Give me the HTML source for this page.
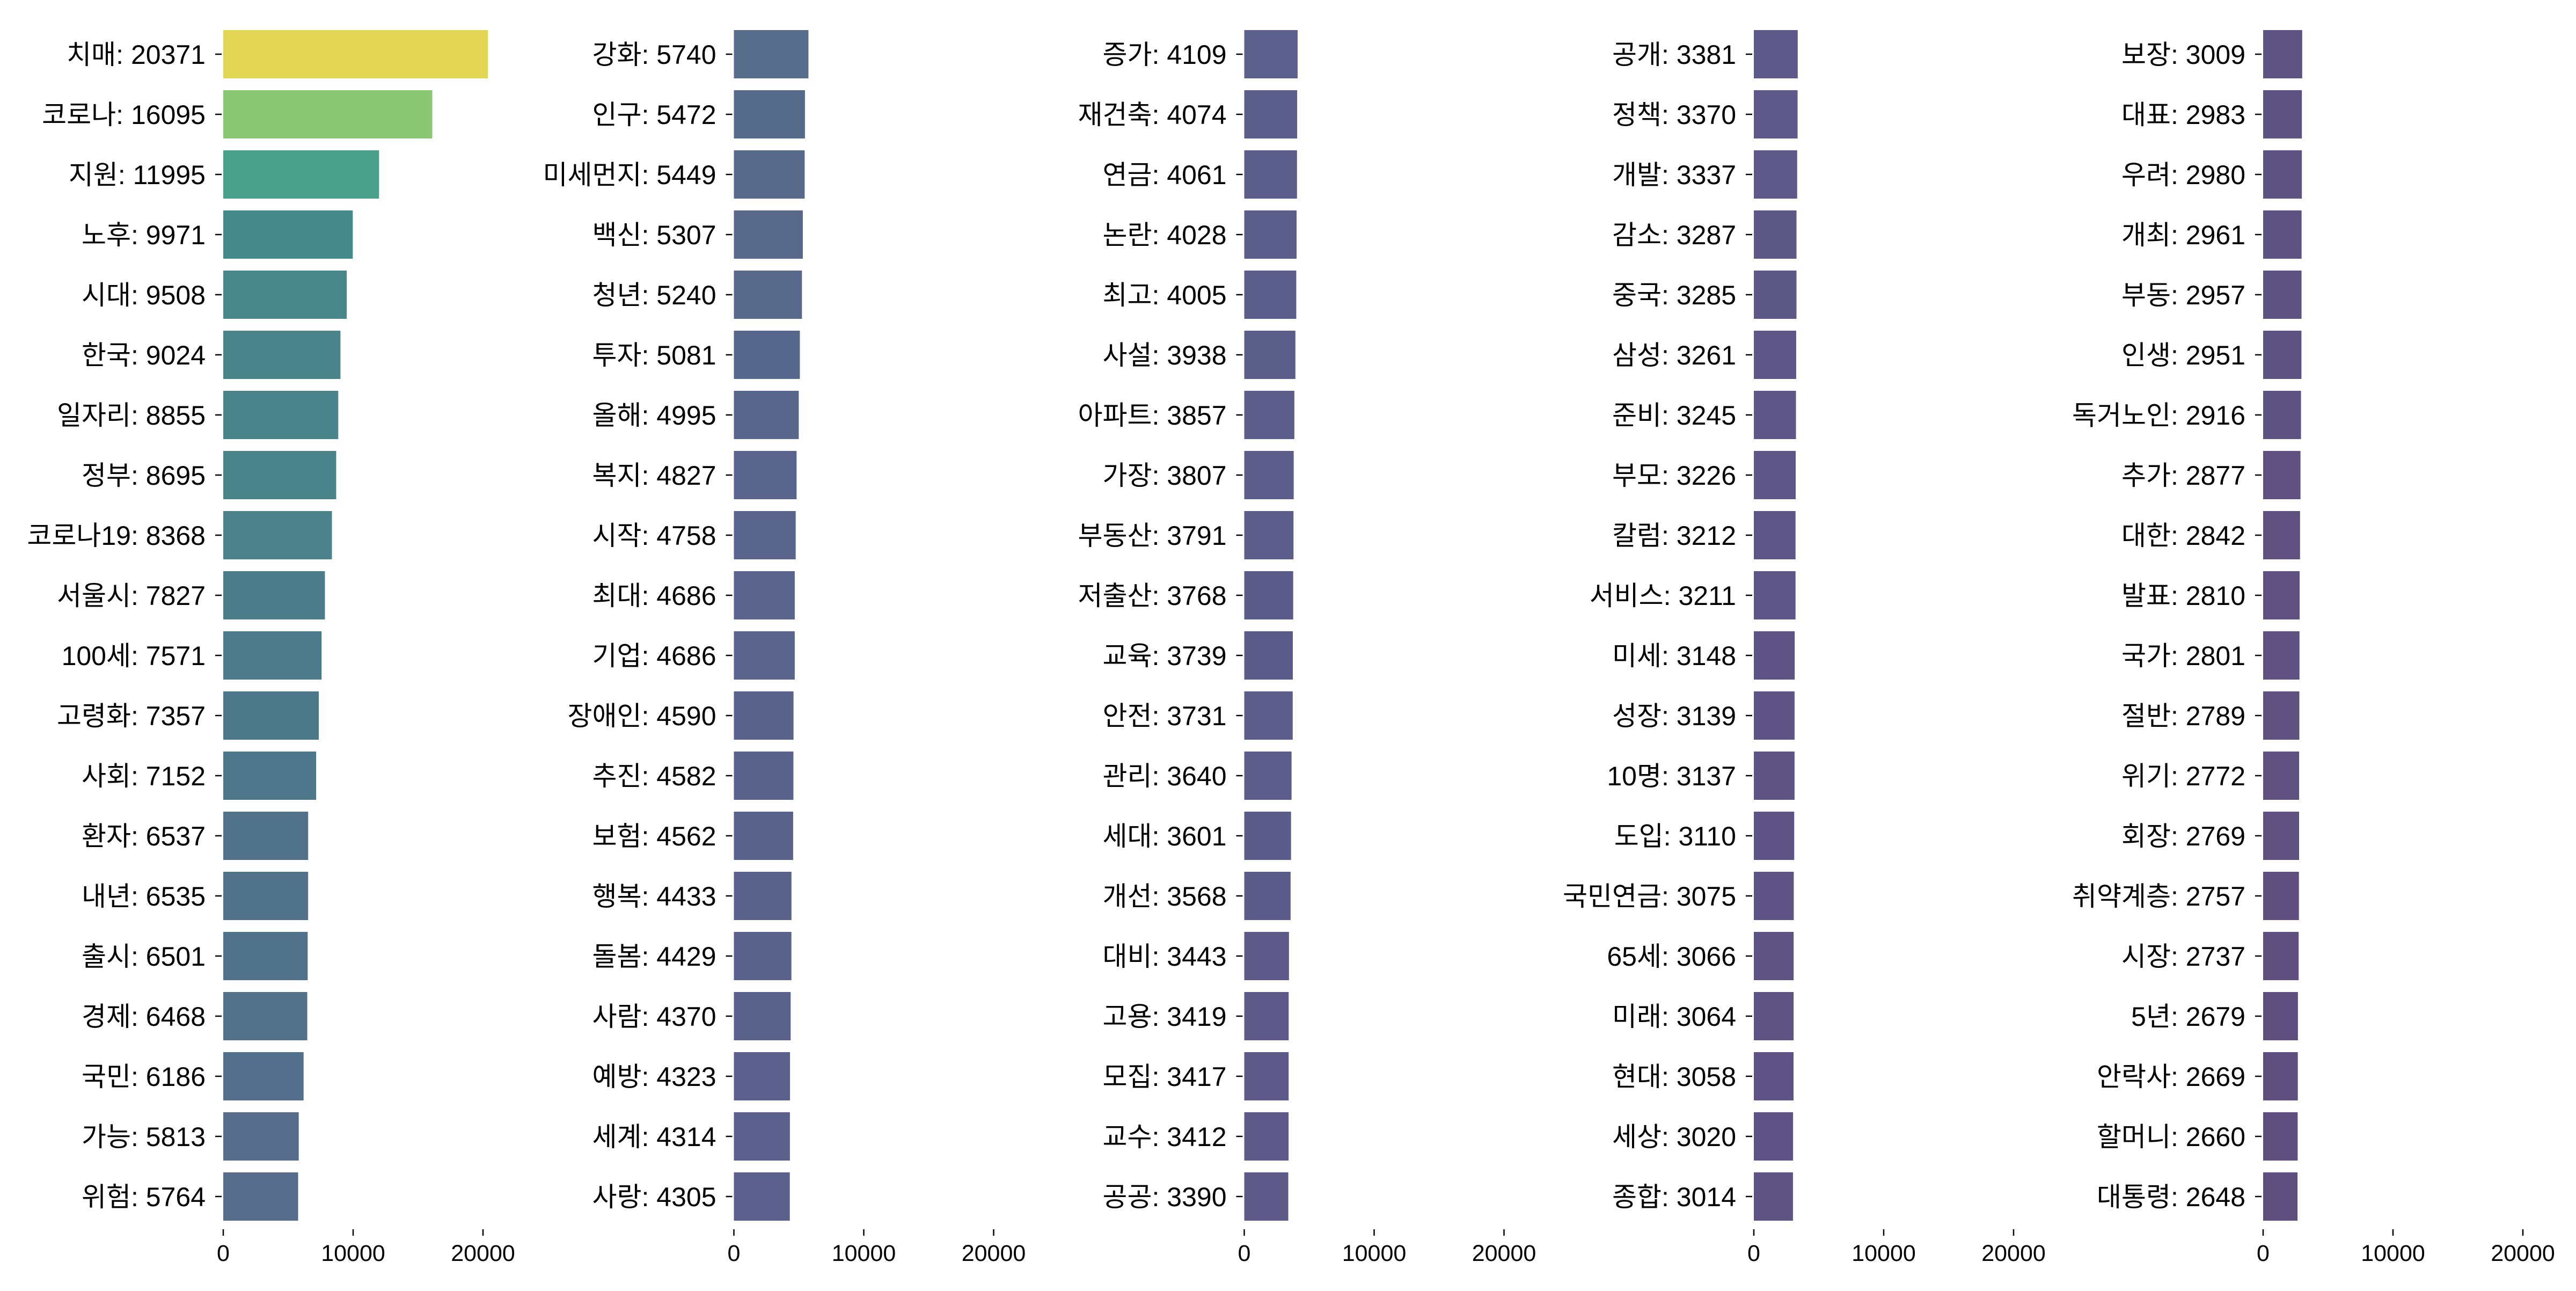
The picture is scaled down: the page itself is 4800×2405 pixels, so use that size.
<!DOCTYPE html>
<html><head><meta charset="utf-8"><style>
html,body{margin:0;padding:0;background:#fff;}
svg text{font-family:"Liberation Sans","Noto Sans CJK KR",sans-serif;fill:#000;}
</style></head><body>
<svg id="chart" width="4800" height="2400" viewBox="0 0 4800 2400" xmlns="http://www.w3.org/2000/svg"></svg>
<script>
const words1=["치매","코로나","지원","노후","시대","한국","일자리","정부","코로나19","서울시","100세","고령화","사회","환자","내년","출시","경제","국민","가능","위험"];
const counts1=[20371,16095,11995,9971,9508,9024,8855,8695,8368,7827,7571,7357,7152,6537,6535,6501,6468,6186,5813,5764];
const words2=["강화","인구","미세먼지","백신","청년","투자","올해","복지","시작","최대","기업","장애인","추진","보험","행복","돌봄","사람","예방","세계","사랑"];
const counts2=[5740,5472,5449,5307,5240,5081,4995,4827,4758,4686,4686,4590,4582,4562,4433,4429,4370,4323,4314,4305];
const words3=["증가","재건축","연금","논란","최고","사설","아파트","가장","부동산","저출산","교육","안전","관리","세대","개선","대비","고용","모집","교수","공공"];
const counts3=[4109,4074,4061,4028,4005,3938,3857,3807,3791,3768,3739,3731,3640,3601,3568,3443,3419,3417,3412,3390];
const words4=["공개","정책","개발","감소","중국","삼성","준비","부모","칼럼","서비스","미세","성장","10명","도입","국민연금","65세","미래","현대","세상","종합"];
const counts4=[3381,3370,3337,3287,3285,3261,3245,3226,3212,3211,3148,3139,3137,3110,3075,3066,3064,3058,3020,3014];
const words5=["보장","대표","우려","개최","부동","인생","독거노인","추가","대한","발표","국가","절반","위기","회장","취약계층","시장","5년","안락사","할머니","대통령"];
const counts5=[3009,2983,2980,2961,2957,2951,2916,2877,2842,2810,2801,2789,2772,2769,2757,2737,2679,2669,2660,2648];
const xTicks=[0,10000,20000];
const xTickLabels=["0","10000","20000"];

const panels=[[words1,counts1],[words2,counts2],[words3,counts3],[words4,counts4],[words5,counts5]];
const NS="http://www.w3.org/2000/svg";
const svg=document.getElementById('chart');
const stops=[[2648,[94,78,125]],[3100,[94,84,133]],[3400,[94,90,137]],[4300,[90,96,139]],[5764,[85,108,139]],[7000,[79,118,139]],[8500,[74,130,138]],[9971,[70,137,138]],[11995,[72,160,139]],[16095,[139,200,116]],[20371,[227,214,84]]];
function color(v){
  if(v<=stops[0][0]) return 'rgb('+stops[0][1]+')';
  for(let i=1;i<stops.length;i++){
    if(v<=stops[i][0]){const a=stops[i-1],b=stops[i];const t=(v-a[0])/(b[0]-a[0]);
      return 'rgb('+a[1].map((c,k)=>Math.round(c+(b[1][k]-c)*t)).join(',')+')';}
  }
  return 'rgb('+stops[stops.length-1][1]+')';
}
function mk(tag,attrs){const e=document.createElementNS(NS,tag);for(const k in attrs)e.setAttribute(k,attrs[k]);svg.appendChild(e);return e;}
const origins=[416,1367.5,2318.5,3268,4217];
const pxPer=242/10000;
const rowY=i=>56+112*i;
const barH=90;
panels.forEach((p,pi)=>{
  const [words,counts]=p;const ox=origins[pi];
  const xs=v=>ox+v*pxPer;
  words.forEach((w,i)=>{
    const r=mk('rect',{x:ox,y:rowY(i),width:xs(counts[i])-ox,height:barH,fill:color(counts[i])});
    
    
    const tk=mk('line',{x1:ox-15,x2:ox-3,y1:rowY(i)+barH/2,y2:rowY(i)+barH/2,stroke:'#000','stroke-width':2.5});
    
    
    const t=mk('text',{x:ox-33,y:rowY(i)+barH/2+18,'text-anchor':'end','font-size':50});
    t.textContent=w+': '+counts[i];
    
    
  });
  xTicks.forEach((v,k)=>{
    const l=mk('line',{x1:xs(v),x2:xs(v),y1:2290,y2:2302,stroke:'#000','stroke-width':2.5});
    
    
    const t=mk('text',{x:xs(v),y:2349,'text-anchor':'middle','font-size':43});
    t.textContent=xTickLabels[k];
    
    
  });
});
</script>
</body></html>
